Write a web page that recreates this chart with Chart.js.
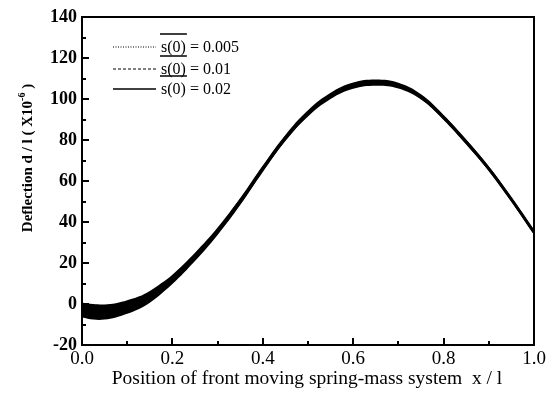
<!DOCTYPE html>
<html>
<head>
<meta charset="utf-8">
<script src="https://cdn.jsdelivr.net/npm/chart.js@4.4.0/dist/chart.umd.min.js"></script>
<style>
  html, body { margin: 0; padding: 0; background: #fff; }
  #wrap { width: 551px; height: 403px; }
</style>
</head>
<body>
<div id="wrap"><canvas id="c"></canvas></div>
<script>
/* ============================================================
   Data
============================================================ */
const xPos    = [0, 0.025, 0.05, 0.075, 0.1, 0.125, 0.15, 0.175, 0.2, 0.25, 0.3, 0.35, 0.4, 0.45, 0.5, 0.55, 0.6, 0.65, 0.7, 0.75, 0.8, 0.85, 0.9, 0.95, 1.0];
const defl005 = [-3, -3.8, -3.9, -3.1, -1.5, 0.5, 3.5, 7.5, 12, 23, 35.5, 50, 66, 81, 93, 101.5, 106.5, 108, 106.5, 101, 91, 79, 66, 51, 35];
const defl01  = [-3, -3.8, -3.9, -3.1, -1.5, 0.5, 3.5, 7.5, 12, 23, 35.5, 50, 66, 81, 93, 101.5, 106.5, 108, 106.5, 101, 91, 79, 66, 51, 35];
const defl02  = [-3, -3.8, -3.9, -3.1, -1.5, 0.5, 3.5, 7.5, 12, 23, 35.5, 50, 66, 81, 93, 101.5, 106.5, 108, 106.5, 101, 91, 79, 66, 51, 35];
// envelope of the fast oscillation of the s(0)=0.02 curve
const bandHi  = [0.6, 0, -0.2, 0.4, 1.8, 3.6, 6.4, 10.1, 14.3, 25, 37.3, 51.7, 67.6, 82.5, 94.5, 103, 108, 109.5, 107.9, 102.3, 92.2, 80.2, 67.1, 52.1, 36.1];
const bandLo  = [-6.6, -7.6, -7.6, -6.6, -4.8, -2.6, 0.6, 4.9, 9.7, 21, 33.7, 48.3, 64.4, 79.5, 91.5, 100, 105, 106.5, 105.1, 99.7, 89.8, 77.8, 64.9, 49.9, 33.9];
const xTicks  = [0, 0.2, 0.4, 0.6, 0.8, 1.0];
const yTicks  = [-20, 0, 20, 40, 60, 80, 100, 120, 140];
const labels  = ["s(0) = 0.005", "s(0) = 0.01", "s(0) = 0.02"];

const SERIF = "'Liberation Serif', 'DejaVu Serif', serif";

function pts(ys) {
    return xPos.map((x, i) => ({ x: x, y: ys[i] }));
}

/* ============================================================
   Frame, inward ticks, titles and legend
============================================================ */
const framePlugin = {
    id: "frame",
    afterDraw(chart) {
        const ctx = chart.ctx;
        const a = chart.chartArea;
        const xs = chart.scales.x, ys = chart.scales.y;
        ctx.save();
        ctx.strokeStyle = "#000";
        ctx.lineWidth = 2;
        ctx.strokeRect(a.left, a.top, a.right - a.left, a.bottom - a.top);

        // inward ticks, major + minor
        for (let v = 0; v <= 1.0001; v += 0.1) {
            const px = Math.round(xs.getPixelForValue(v));
            const major = Math.round(v * 10) % 2 === 0;
            ctx.beginPath();
            ctx.moveTo(px, a.bottom);
            ctx.lineTo(px, a.bottom - (major ? 7 : 4));
            ctx.stroke();
        }
        for (let v = -20; v <= 140; v += 10) {
            const py = Math.round(ys.getPixelForValue(v));
            const major = v % 20 === 0;
            ctx.beginPath();
            ctx.moveTo(a.left, py);
            ctx.lineTo(a.left + (major ? 7 : 4), py);
            ctx.stroke();
        }

        // x title
        ctx.fillStyle = "#000";
        ctx.font = "19.5px " + SERIF;
        ctx.textAlign = "center";
        ctx.textBaseline = "middle";
        ctx.fillText("Position of front moving spring-mass system  x / l", 307, 379);

        // y title (rotated, with superscript)
        ctx.translate(28, 158);
        ctx.rotate(-Math.PI / 2);
        const bold = "bold 15px " + SERIF;
        const sup = "bold 10px " + SERIF;
        const parts = [["Deflection d / l ( X10", bold, 0], ["-6", sup, -6], [" )", bold, 0]];
        let total = 0;
        parts.forEach(p => { ctx.font = p[1]; total += ctx.measureText(p[0]).width; });
        let cx = -total / 2;
        ctx.textAlign = "left";
        parts.forEach(p => {
            ctx.font = p[1];
            ctx.fillText(p[0], cx, p[2]);
            cx += ctx.measureText(p[0]).width;
        });
        ctx.restore();

        // legend
        ctx.save();
        const rows = [47, 69, 89];
        const lineSets = chart.data.datasets.filter(d => d.inLegend);
        lineSets.forEach((d, i) => {
            const y = rows[i];
            ctx.strokeStyle = "#000";
            ctx.lineWidth = d.legendWidth;
            ctx.setLineDash(d.borderDash || []);
            ctx.beginPath();
            ctx.moveTo(113, y);
            ctx.lineTo(156, y);
            ctx.stroke();
            ctx.setLineDash([]);

            ctx.font = "16px " + SERIF;
            ctx.fillStyle = "#000";
            ctx.textAlign = "left";
            ctx.textBaseline = "middle";
            ctx.fillText(d.label, 161, y + 1);
            const w = ctx.measureText("s(0)").width;
            ctx.lineWidth = 1.5;
            ctx.beginPath();
            ctx.moveTo(160, y - 13);
            ctx.lineTo(161 + w + 1, y - 13);
            ctx.stroke();
        });
        ctx.restore();
    }
};

/* ============================================================
   Chart
============================================================ */
new Chart(document.getElementById("c"), {
    type: "line",
    data: {
        datasets: [
            {
                label: "band-lo", data: pts(bandLo),
                borderWidth: 0, pointRadius: 0, borderColor: "rgba(0,0,0,0)",
                tension: 0.4, fill: false
            },
            {
                label: "band-hi", data: pts(bandHi),
                borderWidth: 0, pointRadius: 0, borderColor: "rgba(0,0,0,0)",
                backgroundColor: "#000", tension: 0.4, fill: "-1"
            },
            {
                label: labels[0], data: pts(defl005), inLegend: true, legendWidth: 1,
                borderColor: "#000", borderWidth: 1, borderDash: [1, 1.5],
                pointRadius: 0, tension: 0.4, fill: false
            },
            {
                label: labels[1], data: pts(defl01), inLegend: true, legendWidth: 1,
                borderColor: "#000", borderWidth: 1, borderDash: [3, 2],
                pointRadius: 0, tension: 0.4, fill: false
            },
            {
                label: labels[2], data: pts(defl02), inLegend: true, legendWidth: 1.5,
                borderColor: "#000", borderWidth: 3,
                pointRadius: 0, tension: 0.4, fill: false
            }
        ]
    },
    options: {
        responsive: true,
        maintainAspectRatio: false,
        animation: false,
        events: [],
        layout: { padding: { left: 0, top: 17, right: 17, bottom: 0 } },
        plugins: { legend: { display: false }, tooltip: { enabled: false } },
        scales: {
            x: {
                type: "linear", min: 0, max: 1,
                afterFit: s => { s.height = 58; },
                afterBuildTicks: s => { s.ticks = xTicks.map(v => ({ value: v })); },
                grid: { display: false, drawTicks: false },
                border: { display: false },
                ticks: {
                    padding: 3, color: "#000",
                    font: { family: SERIF, size: 19 },
                    maxRotation: 0,
                    callback: v => v.toFixed(1)
                }
            },
            y: {
                type: "linear", min: -20, max: 140,
                afterFit: s => { s.width = 82; },
                afterBuildTicks: s => { s.ticks = yTicks.map(v => ({ value: v })); },
                grid: { display: false, drawTicks: false },
                border: { display: false },
                ticks: {
                    padding: 5, color: "#000",
                    font: { family: SERIF, size: 18, weight: "bold" }
                }
            }
        }
    },
    plugins: [framePlugin]
});
</script>
</body>
</html>
